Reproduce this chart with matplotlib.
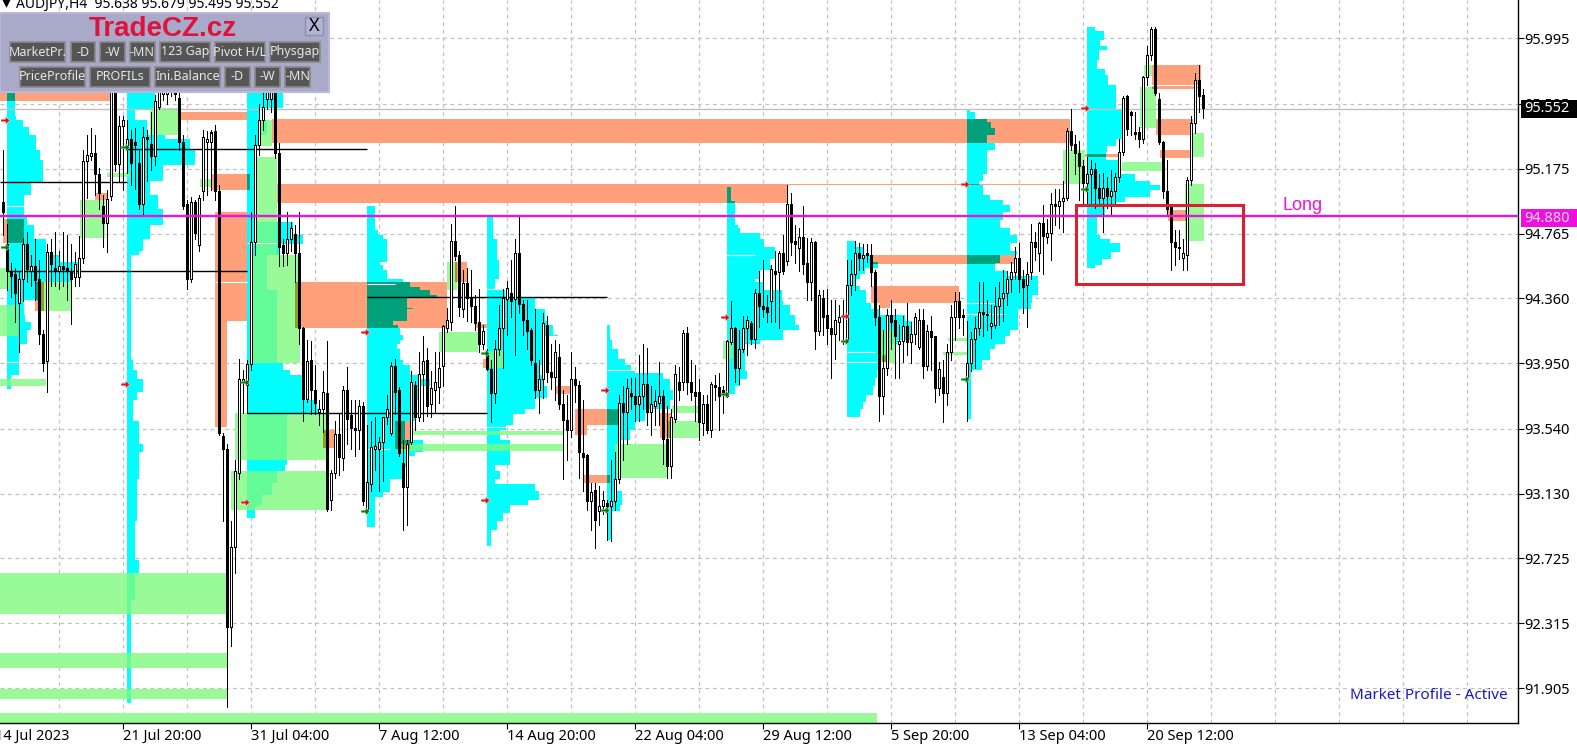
import matplotlib
matplotlib.use("Agg")
import matplotlib.pyplot as plt
from matplotlib.patches import Rectangle

W, H = 1577, 752
FONT = "Noto Sans"

# x values are trading hours since the first tick: one H4 bar = 4 hours
FIRST_BAR = 2
BAR_HOURS = 4

opens = [94.96,94.70,94.53,94.51,94.33,94.48,94.70,94.53,94.56,94.48,
94.13,93.96,94.65,94.55,94.53,94.56,94.55,94.53,94.49,94.49,
94.61,95.22,95.25,95.27,95.14,94.94,94.83,95.00,95.66,95.20,
95.44,95.31,95.36,95.34,95.21,94.95,95.37,95.33,95.25,95.56,
95.64,95.64,95.66,95.70,95.62,95.34,94.95,94.48,94.96,94.69,
95.03,95.34,95.34,95.41,95.03,93.49,93.41,92.29,92.79,93.26,
93.83,93.81,93.94,94.71,95.32,95.48,95.61,95.61,95.66,95.27,
94.69,94.64,94.73,94.76,94.64,94.17,93.72,93.97,93.78,93.64,
93.66,93.76,93.09,93.26,93.50,93.35,93.78,93.62,93.54,93.53,
93.68,93.03,93.19,93.41,93.41,93.45,93.61,93.51,93.93,93.78,
93.32,93.17,93.45,93.81,93.61,93.88,93.97,93.69,93.78,93.80,
93.93,94.17,94.21,94.72,94.63,94.29,94.45,94.36,94.31,94.21,
94.07,94.00,93.91,93.76,94.04,94.17,94.35,94.39,94.35,94.64,
94.32,94.22,94.16,93.95,93.78,93.85,94.19,93.89,93.86,93.99,
93.69,93.59,93.53,93.85,93.81,93.38,93.37,93.08,93.15,93.02,
93.05,93.07,93.05,93.08,93.22,93.70,93.64,93.76,93.74,93.69,
93.74,93.82,93.64,93.68,93.70,93.74,93.47,93.30,93.60,93.83,
93.83,94.14,93.83,93.77,93.77,93.57,93.69,93.53,93.81,93.80,
93.77,93.74,94.08,94.17,93.92,94.04,94.17,94.20,94.10,94.39,
94.31,94.30,94.34,94.53,94.52,94.64,94.59,94.95,94.72,94.67,
94.74,94.58,94.46,94.71,94.15,94.36,94.25,94.17,94.13,94.21,
94.25,94.10,94.44,94.51,94.64,94.61,94.63,94.63,94.52,94.24,
93.74,93.92,94.25,94.22,94.07,94.09,94.18,94.08,94.13,94.05,
94.22,93.93,94.15,94.12,93.79,93.86,93.76,94.02,94.24,94.34,
94.24,93.86,93.95,94.10,94.17,94.27,94.26,94.18,94.19,94.31,
94.36,94.39,94.48,94.52,94.61,94.48,94.44,94.52,94.71,94.64,
94.83,94.74,94.77,94.94,94.94,94.97,94.99,95.41,95.33,95.27,
95.19,95.08,95.14,95.17,95.05,94.99,95.05,95.00,95.03,95.12,
95.28,95.63,95.53,95.40,95.40,95.36,95.75,95.89,96.05,95.61,
95.34,95.03,94.93,94.71,94.68,94.61,94.63,95.10,95.46,95.73,
95.638]
highs = [95.29,94.83,94.58,94.55,94.53,94.74,94.78,94.63,94.73,94.60,
94.16,94.70,94.73,94.78,94.66,94.78,94.76,94.70,94.65,94.75,
95.29,95.39,95.43,95.39,95.18,95.01,95.04,95.73,95.80,95.51,
95.51,95.48,95.42,95.43,95.29,95.44,95.42,95.53,95.64,95.73,
95.80,95.78,95.76,95.80,95.66,95.39,94.98,95.00,94.98,95.01,
95.42,95.41,95.42,95.45,95.07,93.51,93.44,92.96,93.34,93.98,
93.91,93.97,94.90,95.39,95.58,95.66,95.77,95.80,95.70,95.34,
94.73,94.90,94.84,94.82,94.90,94.18,94.10,94.09,93.94,93.72,
93.90,94.09,93.28,93.59,93.64,93.81,93.93,93.72,93.72,93.72,
93.71,93.56,93.59,93.61,93.49,93.61,93.75,93.96,93.98,93.80,
93.47,93.47,93.90,93.84,94.02,94.12,94.05,93.90,94.02,94.02,
94.19,94.30,94.83,94.94,94.66,94.54,94.55,94.54,94.38,94.42,
94.19,94.04,93.97,94.10,94.32,94.42,94.47,94.60,94.73,94.87,
94.35,94.35,94.17,94.29,93.97,94.27,94.25,94.07,94.10,94.07,
93.78,93.75,94.02,93.93,93.84,93.72,93.38,93.20,93.20,93.18,
93.15,93.09,93.34,93.39,93.75,93.81,93.85,93.86,93.86,94.00,
94.07,94.05,93.81,93.78,93.96,93.78,93.68,93.66,93.94,93.93,
94.16,94.18,93.97,93.94,93.85,93.75,93.75,93.83,93.88,93.89,
93.81,94.10,94.34,94.18,94.16,94.25,94.25,94.22,94.42,94.53,
94.60,94.38,94.57,94.66,94.66,94.76,95.07,95.02,94.82,94.80,
94.94,94.74,94.74,94.72,94.41,94.41,94.42,94.35,94.35,94.32,
94.35,94.60,94.60,94.72,94.71,94.70,94.70,94.70,94.54,94.32,
94.16,94.29,94.35,94.29,94.19,94.25,94.33,94.21,94.27,94.29,
94.29,94.19,94.25,94.12,93.96,93.97,94.07,94.32,94.40,94.40,
94.29,94.22,94.15,94.24,94.46,94.46,94.35,94.32,94.43,94.46,
94.54,94.53,94.59,94.68,94.71,94.54,94.59,94.83,94.78,94.84,
94.95,94.86,95.02,95.05,95.05,95.10,95.43,95.55,95.39,95.35,
95.23,95.25,95.23,95.21,95.14,95.15,95.12,95.17,95.15,95.36,
95.63,95.64,95.54,95.53,95.44,95.76,95.95,96.07,96.07,95.65,
95.35,95.23,94.95,94.79,94.79,94.73,95.12,95.51,95.78,95.83,
95.679]
lows = [94.76,94.41,94.37,94.21,94.02,94.34,94.46,94.44,94.35,94.07,
93.90,93.77,94.44,94.44,94.42,94.44,94.35,94.20,94.44,94.44,
94.58,94.99,95.23,95.01,94.92,94.68,94.65,94.98,95.16,95.10,
95.04,95.15,95.07,95.05,94.92,94.88,95.10,95.17,95.20,95.55,
95.61,95.58,95.63,95.61,95.29,94.92,94.42,94.46,94.73,94.66,
94.98,95.01,95.04,94.98,93.50,92.96,91.79,92.17,92.63,93.22,
93.64,93.64,93.91,94.63,95.26,95.42,95.55,95.53,95.24,94.56,
94.56,94.57,94.66,94.46,94.07,93.59,93.71,93.63,93.63,93.56,
93.52,93.02,93.03,93.23,93.25,93.28,93.44,93.41,93.37,93.41,
93.06,93.01,93.15,93.28,93.15,93.21,93.57,93.50,93.63,93.37,
92.90,92.93,93.44,93.53,93.59,93.59,93.62,93.61,93.64,93.70,
93.81,94.15,94.16,94.60,94.25,94.24,94.22,94.21,94.16,94.02,
94.04,93.91,93.58,93.70,94.00,93.92,94.13,94.24,94.00,94.27,
94.13,94.04,93.94,93.73,93.64,93.73,93.83,93.79,93.72,93.66,
93.22,93.34,93.49,93.71,93.23,93.15,93.03,92.90,92.79,92.93,
93.00,92.84,92.83,93.03,93.20,93.34,93.44,93.66,93.59,93.59,
93.66,93.56,93.50,93.56,93.56,93.32,93.23,93.23,93.58,93.72,
93.78,93.76,93.72,93.59,93.47,93.50,93.51,93.49,93.72,93.53,
93.64,93.74,94.07,93.83,93.82,94.02,94.00,94.07,94.05,94.18,
94.24,94.21,94.21,94.21,94.17,94.51,94.57,94.63,94.58,94.53,
94.51,94.35,94.35,94.04,94.13,94.13,94.07,93.86,93.98,94.10,
94.07,94.09,94.38,94.41,94.54,94.54,94.59,94.44,94.19,93.59,
93.63,93.88,94.04,93.86,93.86,93.96,94.00,93.95,94.07,94.04,
93.86,93.91,93.91,93.71,93.75,93.58,93.69,93.97,94.10,94.17,
94.13,93.59,93.90,93.92,94.13,94.12,94.16,94.11,94.17,94.19,
94.22,94.32,94.40,94.48,94.40,94.27,94.18,94.48,94.60,94.53,
94.51,94.71,94.60,94.82,94.80,94.78,94.98,95.29,95.14,94.98,
94.95,94.96,94.95,94.93,94.95,94.78,94.93,94.88,94.95,95.09,
95.26,95.39,95.39,95.36,95.31,95.34,95.70,95.86,95.64,95.33,
94.99,94.88,94.54,94.57,94.61,94.54,94.54,95.07,95.40,95.53,
95.495]
closes = [94.90,94.53,94.50,94.39,94.48,94.70,94.54,94.56,94.47,94.13,
93.95,94.65,94.57,94.53,94.56,94.54,94.53,94.48,94.57,94.61,
95.22,95.26,95.27,95.14,95.02,94.83,94.98,95.67,95.20,95.44,
95.48,95.36,95.21,95.32,94.95,95.37,95.36,95.25,95.60,95.66,
95.70,95.70,95.70,95.64,95.34,94.94,94.48,94.96,94.77,94.99,
95.37,95.36,95.40,95.03,93.51,93.41,92.29,92.79,93.27,93.85,
93.85,93.94,94.71,95.32,95.48,95.56,95.67,95.70,95.27,94.68,
94.64,94.73,94.80,94.64,94.17,93.72,93.96,93.78,93.70,93.66,
93.77,93.03,93.26,93.50,93.36,93.78,93.60,93.54,93.53,93.68,
93.08,93.20,93.42,93.43,93.45,93.61,93.66,93.93,93.77,93.38,
93.17,93.44,93.83,93.61,93.88,93.96,93.68,93.79,93.83,93.92,
94.18,94.22,94.72,94.62,94.30,94.45,94.36,94.31,94.20,94.07,
94.15,93.91,93.76,94.04,94.17,94.36,94.42,94.34,94.64,94.32,
94.22,94.15,93.97,93.78,93.85,94.20,93.89,93.86,94.02,93.69,
93.59,93.53,93.85,93.81,93.39,93.36,93.08,93.14,92.96,93.05,
93.09,93.05,93.08,93.22,93.70,93.64,93.79,93.74,93.69,93.74,
93.82,93.64,93.69,93.71,93.74,93.47,93.30,93.61,93.88,93.78,
94.14,93.83,93.77,93.74,93.58,93.69,93.53,93.82,93.80,93.74,
93.78,94.09,94.17,93.92,94.04,94.17,94.22,94.10,94.39,94.31,
94.29,94.27,94.54,94.51,94.64,94.53,94.95,94.71,94.70,94.74,
94.57,94.46,94.71,94.15,94.38,94.24,94.17,94.13,94.22,94.24,
94.24,94.44,94.51,94.64,94.61,94.63,94.64,94.52,94.24,93.74,
93.92,94.25,94.21,94.12,94.09,94.18,94.08,94.13,94.24,94.22,
93.93,94.15,94.11,93.79,93.91,93.76,94.02,94.24,94.34,94.24,
94.25,93.95,94.10,94.17,94.27,94.26,94.25,94.20,94.31,94.36,
94.39,94.48,94.52,94.61,94.48,94.43,94.51,94.71,94.68,94.83,
94.75,94.77,94.95,94.95,94.97,94.99,95.41,95.32,95.27,95.19,
95.08,95.14,95.17,95.05,94.99,95.05,95.00,95.03,95.12,95.28,
95.62,95.42,95.51,95.39,95.36,95.75,95.89,96.05,95.65,95.34,
95.03,94.92,94.71,94.68,94.67,94.64,95.10,95.46,95.73,95.63,
95.552]

# Value-area / gap zones: left hour, right hour, upper price, lower price
salmon_x0 = [0,183,277,217,282,792,220,220,8,40,100,300,328,460,480,488,560,580,580,588,665,400,877,876,885,887,1157,1161,1165,1173,1090]
salmon_x1 = [115,252,1075,255,792,1068,252,232,29,49,112,452,340,472,492,494,575,623,592,615,677,415,1020,964,895,892,1206,1198,1195,1192,1125]
salmon_hi = [95.66,95.53,95.49,95.14,95.08,95.08,94.90,94.22,94.86,94.46,95.02,94.46,93.53,94.59,94.20,93.98,93.81,93.66,93.56,93.25,93.64,93.59,94.63,94.44,94.33,94.00,95.83,95.49,95.29,94.915,95.27]
salmon_lo = [95.60,95.48,95.34,95.04,94.96,95.07,94.22,93.55,94.71,94.28,94.98,94.17,93.42,94.46,94.17,93.92,93.76,93.56,93.50,93.20,93.48,93.41,94.575,94.33,94.30,93.96,95.68,95.39,95.24,94.845,95.25]

green_x0 = [260,255,240,236,0,0,0,46,85,112,155,263,205,452,444,494,418,405,620,672,677,728,885,953,948,1068,1149,1145,1195,1127,1190,0,0,0,0]
green_x1 = [282,305,331,332,15,23,51,76,110,135,185,277,217,462,483,508,568,568,672,705,705,738,900,972,972,1090,1157,1161,1209,1168,1209,232,232,232,882]
green_hi = [95.25,94.63,93.64,93.27,94.55,94.32,93.85,94.46,94.98,95.15,95.56,95.48,95.11,94.59,94.15,94.03,93.525,93.44,93.44,93.59,93.68,94.09,94.16,94.11,94.02,95.29,95.83,95.69,95.40,95.22,95.08,92.63,92.13,91.90,91.75]
green_lo = [94.63,93.95,93.34,93.03,94.42,94.12,93.81,94.28,94.74,95.12,95.39,95.32,95.06,94.41,94.02,93.92,93.50,93.40,93.23,93.48,93.64,93.98,93.95,94.09,94.00,95.08,95.76,95.43,95.25,95.16,94.72,92.37,92.03,91.84,91.69]

# Market profiles: start hour, price of each row's top edge (last = bottom), row width in hours
p1_start, p1_prices, p1_widths = 12, [95.66,95.51,95.48,95.44,95.39,95.29,95.23,95.15,95.09,95.01,94.90,94.87,94.82,94.73,94.63,94.59,94.51,94.46,94.35,94.255,94.21,94.16,94.07,94.02,93.88,93.79], [8,9,16,22,29,33,36,36,24,17,17,20,27,39,53,71,65,33,17,18,24,20,13,12,4]
p2_start, p2_prices, p2_widths = 132, [95.66,95.55,95.48,95.39,95.36,95.29,95.20,95.10,95.01,94.92,94.82,94.73,94.66,94.63,93.97,93.91,93.85,93.77,93.72,93.59,93.44,93.39,93.22,92.96,92.71,92.63,92.46,91.81], [28,8,20,38,63,68,36,23,31,36,23,16,12,4,6,10,16,10,6,12,16,12,10,8,12,8,4]
p3_start, p3_prices, p3_widths = 252, [95.66,95.56,95.48,95.39,95.32,94.84,94.76,94.70,94.63,94.41,94.16,93.95,93.91,93.88,93.81,93.72,93.66,93.63,93.34,93.31,93.27,93.20,93.12,93.06,92.98], [36,13,20,11,8,46,56,33,20,30,30,36,43,56,58,70,73,40,40,38,30,25,15,8]
p4_start, p4_prices, p4_widths = 372, [94.94,94.79,94.76,94.73,94.59,94.57,94.54,94.48,94.46,94.43,94.41,94.38,94.36,94.30,94.29,94.22,94.19,94.17,94.13,94.10,94.07,94.04,93.97,93.94,93.88,93.85,93.81,93.72,93.59,93.47,93.39,93.37,93.30,93.22,93.14,93.11,93.00,92.92], [8,11,16,20,13,16,20,36,43,53,63,70,40,46,40,26,31,33,36,33,30,33,36,43,53,63,53,48,38,56,48,41,36,23,16,8,8]
p5_start, p5_prices, p5_widths = 492, [94.87,94.73,94.60,94.48,94.41,94.37,94.29,94.22,94.19,94.13,94.12,93.94,93.88,93.81,93.73,93.66,93.63,93.56,93.53,93.47,93.31,93.27,93.22,93.19,93.15,93.09,93.06,93.01,92.96,92.90,92.80], [6,10,12,8,18,48,58,61,66,71,58,53,56,60,48,38,26,19,13,23,8,13,8,48,52,41,23,16,10,4]
p6_start, p6_prices, p6_widths = 612, [94.19,94.10,94.04,93.98,93.94,93.91,93.89,93.85,93.78,93.72,93.66,93.59,93.53,93.47,93.44,93.22,93.15,93.06,93.02,92.84], [3,5,11,18,24,28,56,63,66,63,38,28,23,13,10,10,15,13,5]
p7_start, p7_prices, p7_widths = 732, [95.06,94.97,94.82,94.80,94.77,94.73,94.68,94.61,94.57,94.54,94.48,94.46,94.41,94.35,94.32,94.255,94.19,94.16,94.10,94.07,93.90,93.85,93.81,93.76], [4,8,11,13,33,37,48,43,45,33,28,36,55,56,63,68,72,56,33,18,20,13,8]
p8_start, p8_prices, p8_widths = 852, [94.72,94.68,94.63,94.59,94.55,94.51,94.48,94.44,94.41,94.33,94.29,94.255,94.22,94.10,94.07,93.97,93.91,93.86,93.81,93.75,93.71,93.66,93.61], [8,16,24,31,18,13,8,13,19,24,33,58,65,51,43,33,30,28,26,19,16,13]
p9_start, p9_prices, p9_widths = 972, [95.55,95.53,95.49,95.47,95.43,95.39,95.34,95.29,95.14,95.10,95.07,95.01,94.98,94.95,94.90,94.85,94.80,94.76,94.71,94.66,94.63,94.58,94.53,94.50,94.38,94.33,94.29,94.16,94.12,94.07,94.04,93.97,93.91,93.60], [3,8,20,24,28,20,28,20,16,12,16,23,36,43,36,33,43,50,43,50,33,28,41,71,65,64,51,43,38,28,23,15,4]
p10_start, p10_prices, p10_widths = 1092, [96.07,96.04,95.985,95.95,95.92,95.86,95.80,95.765,95.70,95.55,95.36,95.32,95.28,95.23,95.14,95.10,95.07,95.04,94.995,94.965,94.95,94.88,94.76,94.73,94.71,94.65,94.61,94.57,94.55], [8,17,13,20,12,10,18,21,29,35,29,20,19,31,48,63,73,63,38,28,18,10,13,23,33,24,15,8]

profile_starts = [p1_start,p2_start,p3_start,p4_start,p5_start,p6_start,p7_start,p8_start,p9_start,p10_start]
profile_prices = [p1_prices,p2_prices,p3_prices,p4_prices,p5_prices,p6_prices,p7_prices,p8_prices,p9_prices,p10_prices]
profile_widths = [p1_widths,p2_widths,p3_widths,p4_widths,p5_widths,p6_widths,p7_widths,p8_widths,p9_widths,p10_widths]

# Markers at each session start
red_x = [10,130,250,370,490,610,730,850,970,1090]
red_y = [95.48,93.82,93.08,94.15,93.09,93.78,94.24,94.25,95.08,95.56]
green_mark_x = [10,130,250,370,490,610,730,850,970,1090]
green_mark_y = [94.685,95.31,93.83,93.02,94.015,93.03,93.76,94.09,93.85,95.05]

# Black level lines
level_x0 = [5,132,12,372,252]
level_x1 = [132,372,252,612,492]
level_y = [95.09,95.30,94.53,94.37,93.64]

# Thin white lines inside the profiles
white_x0 = [220,252,372,492,492,372,612,732,852,852,972,972,1157,12,12]
white_x1 = [252,282,400,515,510,395,640,760,880,890,1000,1010,1206,25,30]
white_y = [94.46,94.71,94.45,94.42,93.55,93.41,93.91,94.63,94.02,93.96,94.33,94.26,95.70,93.96,94.94]

x_tick_hours = [0,128,256,384,512,640,768,896,1024,1152]
x_tick_labels = ["14 Jul 2023","21 Jul 20:00","31 Jul 04:00","7 Aug 12:00","14 Aug 20:00",
                 "22 Aug 04:00","29 Aug 12:00","5 Sep 20:00","13 Sep 04:00","20 Sep 12:00"]
x_grid_hours = [64*k for k in range(1,24)]
y_ticks = [95.995,95.585,95.175,94.765,94.360,93.950,93.540,93.130,92.725,92.315,91.905]
y_tick_labels = ["95.995","95.585","95.175","94.765","94.360","93.950","93.540","93.130","92.725","92.315","91.905"]

bid_price = 95.552
entry_price = 94.880
long_box_hours = (1081, 1248)
long_box_prices = (94.45, 94.95)

n = len(opens)
assert len(highs) == n and len(lows) == n and len(closes) == n, (n, len(highs), len(lows), len(closes))

CYAN, SALMON, GREEN = "#00FFFF", "#FFA07A", "#98FB98"
CYAN_SALMON, CYAN_GREEN, SALMON_GREEN = "#00A07A", "#62FB98", "#8F9F1C"

fig = plt.figure(figsize=(W/100, H/100), dpi=100, facecolor="white")
ax = fig.add_axes([0, (H-723)/H, 1518/W, 723/H])
ax.set_facecolor("white")

def rects(items, color, z):
    if items:
        ax.bar(x=[r[0] for r in items], height=[r[2]-r[3] for r in items],
               width=[r[1]-r[0] for r in items], bottom=[r[3] for r in items],
               align="edge", color=color, linewidth=0, zorder=z, antialiased=False)

def overlap(a, b):
    out = []
    for p in a:
        for q in b:
            x0, x1 = max(p[0], q[0]), min(p[1], q[1])
            hi, lo = min(p[2], q[2]), max(p[3], q[3])
            if x1 > x0 and hi > lo:
                out.append((x0, x1, hi, lo))
    return out

rows = []
for s, ps, ws in zip(profile_starts, profile_prices, profile_widths):
    assert len(ps) == len(ws) + 1, (s, len(ps), len(ws))
    for k, w in enumerate(ws):
        rows.append((s, s+w, ps[k], ps[k+1]))
sal = list(zip(salmon_x0, salmon_x1, salmon_hi, salmon_lo))
grn = list(zip(green_x0, green_x1, green_hi, green_lo))

rects(rows, CYAN, 1)
rects(sal, SALMON, 1.1)
rects(grn, GREEN, 1.2)
rects(overlap(rows, sal), CYAN_SALMON, 1.3)
rects(overlap(rows, grn), CYAN_GREEN, 1.4)
rects(overlap(sal, grn), SALMON_GREEN, 1.5)

ax.hlines(white_y, white_x0, white_x1, color="white", lw=0.8, zorder=1.6)

for x in x_grid_hours:
    ax.axvline(x, color="#C0C0C0", lw=0.9, ls=(0, (3, 3)), zorder=0.5)
for y in y_ticks:
    ax.axhline(y, color="#C0C0C0", lw=0.9, ls=(0, (3, 3)), zorder=0.5)

ax.hlines(level_y, level_x0, level_x1, color="black", lw=1.0, zorder=2)

xs = [(FIRST_BAR+i)*BAR_HOURS for i in range(n)]
ax.vlines(xs, lows, highs, color="black", lw=0.72, zorder=3, antialiased=False)
# Candle body: a 3-wide black block; rising candles get a 1-wide white core
PIXEL_PRICE = 0.0063
body_lo = [min(opens[i], closes[i]) - PIXEL_PRICE/2 for i in range(n)]
body_h = [abs(closes[i]-opens[i]) + PIXEL_PRICE for i in range(n)]
ax.bar(xs, body_h, bottom=body_lo, width=3.0, color="black", linewidth=0, zorder=4, antialiased=False)
up = [i for i in range(n) if closes[i] - opens[i] > 2*PIXEL_PRICE]
ax.bar([xs[i] for i in up], [closes[i]-opens[i]-PIXEL_PRICE for i in up],
       bottom=[opens[i]+PIXEL_PRICE/2 for i in up], width=1.0, color="white", linewidth=0,
       zorder=4.1, antialiased=False)

ARROW = [(-1,-0.3),(0,-0.3),(0,-0.85),(1,0),(0,0.85),(0,0.3),(-1,0.3),(-1,-0.3)]
ax.scatter(red_x, red_y, marker=ARROW, s=42, color="#E81010", edgecolors="white", linewidths=0.3, zorder=5)
ax.scatter(green_mark_x, green_mark_y, marker=ARROW, s=42, color="#0A7A10", edgecolors="white", linewidths=0.3, zorder=5)

ax.axhline(bid_price, color="#C0C0C0", lw=1.0, zorder=2.5)
ax.axhline(entry_price, color="#EE10DC", lw=1.7, zorder=6)
ax.add_patch(Rectangle((long_box_hours[0], long_box_prices[0]),
                       long_box_hours[1]-long_box_hours[0], long_box_prices[1]-long_box_prices[0],
                       fill=False, edgecolor="#D7232F", lw=2.2, zorder=6))
ax.text(1287, 94.945, "Long", color="#EE10DC", fontsize=13, family="Liberation Sans",
        va="center", ha="left", zorder=7)
ax.text(1512, 91.86, "Market Profile - Active", color="#1818C8", fontsize=11, family=FONT,
        va="center", ha="right", zorder=7)

for s in ["top", "left"]:
    ax.spines[s].set_visible(False)
for s in ["right", "bottom"]:
    ax.spines[s].set_color("black")
    ax.spines[s].set_linewidth(1.0)
ax.yaxis.tick_right()
ax.set_yticks(y_ticks, y_tick_labels, fontsize=10.5, family=FONT)
# The first tick lies left of the visible area: its label is drawn separately, cut by the edge
ax.set_xticks(x_tick_hours[1:], x_tick_labels[1:], fontsize=10.5, family=FONT, ha="left")
ax.tick_params(axis="y", length=4, width=0.8, pad=0.5)
ax.tick_params(axis="x", length=4, width=0.8, pad=0.5)
ax.text(x_tick_hours[0], -13/723, x_tick_labels[0], transform=ax.get_xaxis_transform(),
        fontsize=10.5, family=FONT, ha="left", va="center", clip_on=False)
ax.set_xlim(4.7, 1522.7)
ax.set_ylim(91.687, 96.237)

for price, shift, bg, fg in [(bid_price, 0.0, "black", "white"), (entry_price, -0.016, "#EE10DC", "#F0D8F0")]:
    ax.add_patch(Rectangle((1.002, price+shift-0.055), 56/1518, 0.11, transform=ax.get_yaxis_transform(),
                           facecolor=bg, edgecolor="none", clip_on=False, zorder=9))
    ax.text(1.004, price+shift, f"{price:.3f}", transform=ax.get_yaxis_transform(), color=fg, fontsize=10.5,
            family=FONT, va="center", ha="left", zorder=10, clip_on=False)

# Indicator control panel and header, placed in screen pixels
ui = fig.add_axes([0, 0, 1, 1], facecolor="none")
ui.set_xlim(0, W)
ui.set_ylim(H, 0)
ui.axis("off")
ui.add_patch(Rectangle((0, 13), 329, 79, facecolor="#A9A9C9", edgecolor="#B9B9D6", lw=1.5))
ui.text(163, 29, "TradeCZ.cz", color="#DC143C", fontsize=20, fontweight="bold",
        family="Liberation Sans", ha="center", va="center")
ui.add_patch(Rectangle((305, 17), 18, 18, facecolor="#B2B2D2", edgecolor="#8E8EAE", lw=1))
ui.text(314, 26, "X", color="black", fontsize=13, family=FONT, ha="center", va="center")
btn_rows = [
    (52, [("MarketPr.",10,65),("-D",71,95),("-W",100,125),("-MN",130,155),("123 Gap",160,210),("Pivot H/L",215,265),("Physgap",270,320)]),
    (77, [("PriceProfile",20,85),("PROFILs",90,150),("Ini.Balance",155,220),("-D",225,250),("-W",255,280),("-MN",285,310)]),
]
for yc, buttons in btn_rows:
    for label, x0, x1 in buttons:
        ui.add_patch(Rectangle((x0, yc-10), x1-x0, 20, facecolor="#565656", edgecolor="#8A8A8A", lw=1.2))
        ui.text((x0+x1)/2, yc, label, color="#E6E6E6", fontsize=9, family=FONT, ha="center", va="center",
                clip_on=True)
ui.scatter([6], [2], marker="v", s=60, color="black", linewidths=0, clip_on=True)
ui.text(16, 4, "AUDJPY,H4  95.638 95.679 95.495 95.552", color="black", fontsize=10, family=FONT,
        ha="left", va="center", clip_on=True)

fig.savefig("out.png", dpi=100)
